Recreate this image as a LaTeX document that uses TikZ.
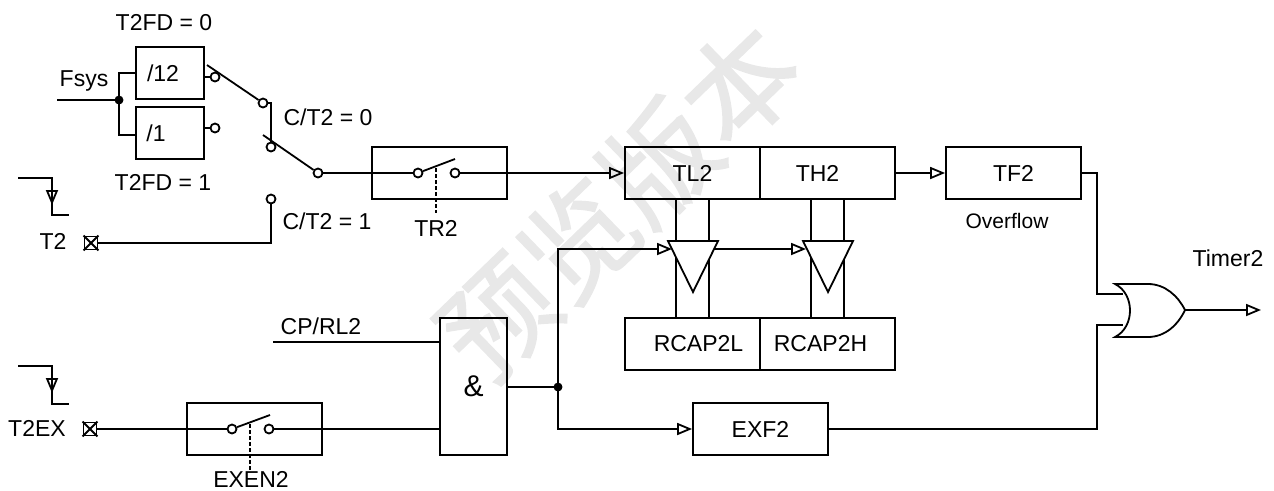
\documentclass[tikz,border=0pt]{standalone}
\usepackage{fontspec}
\setmainfont{Liberation Sans}
\newfontfamily\cjkfont[FakeBold=1.5]{Noto Sans CJK SC}
\usetikzlibrary{arrows.meta}

\tikzset{
	regbox/.style={draw, rectangle, inner sep=0pt, minimum width=135pt, minimum height=52pt},
	divbox/.style={draw, rectangle, inner sep=0pt, minimum width=68pt, minimum height=52pt},
	contact/.style={draw, circle, inner sep=0pt, minimum size=9pt},
	dot/.style={draw, circle, fill=black, inner sep=0pt, minimum size=7pt},
	portbox/.style={draw, rectangle, inner sep=0pt, minimum size=13pt},
	lbl/.style={inner sep=0pt}
}

\begin{document}
\begin{tikzpicture}[x=1pt,y=-1pt,line width=1.8pt,node distance=135pt,
	>={Triangle[open,length=15pt,width=12pt]},
	font=\fontsize{23}{27}\selectfont]
	\useasboundingbox (0,0) rectangle (1274,490);

	% background mark
	\node [lbl, text=black!9, rotate=44] (mark) at (619,201) {\fontsize{112}{112}\cjkfont 预览版本};

	% clock input and dividers
	\node [divbox] (D12) at (170,73) {\hspace*{-14pt}/12};
	\node [divbox] (D1) at (170,133) {\hspace*{-28pt}/1};
	\node [dot] (J1) at (119,100) {};
	\node [lbl] (Fsys) at (84,81) {Fsys};
	\node [lbl] (FD0) at (164,23) {T2FD = 0};
	\node [lbl] (FD1) at (163,182) {T2FD = 1};
	\coordinate (FsysIn) at (57,100);

	\node [contact] (C12) at (215,77) {};
	\node [contact] (C1) at (215,128) {};
	\node [contact] (CA) at (263,103) {};
	\node [contact] (CB) at (271,147) {};
	\node [contact] (CC) at (318,173) {};
	\node [contact] (CD) at (271,199) {};
	\coordinate (ArmA) at (207,65);
	\coordinate (ArmB) at (263,135);
	\node [lbl] (CT0) at (328,117) {C/T2 = 0};
	\node [lbl] (CT1) at (327,221) {C/T2 = 1};

	% T2 pin
	\node [portbox] (T2pin) at (91,243) {};
	\node [lbl] (T2) at (53,241) {T2};
	\coordinate (P1a) at (18,178);
	\coordinate (P1b) at (52,215);
	\coordinate (P1c) at (69,215);
	\coordinate (P1t) at (52,205);

	% TR2 switch
	\node [regbox] (TRbox) at (439.5,173) {};
	\node [contact] (TRa) at (418,173) {};
	\node [contact] (TRb) at (455,173) {};
	\coordinate (TRarm) at (455,159);
	\coordinate (TRd1) at (436,168);
	\coordinate (TRd2) at (436,213);
	\node [lbl] (TR2) at (436,228) {TR2};

	% timer registers
	\node [regbox] (TL) at (692.5,173) {TL2};
	\node [regbox] (TH) [right of = TL] {TH2\hspace*{20pt}};
	\node [regbox] (RL) at (692.5,344) {\hspace*{12pt}RCAP2L};
	\node [regbox] (RH) [right of = RL] {RCAP2H\hspace*{14pt}};
	\node [regbox] (TF) at (1013.5,173) {TF2};
	\node [lbl, font=\fontsize{21}{25}\selectfont] (Ovf) at (1007,221) {Overflow};

	\foreach \n/\m in {TL/RL, TH/RH} {
		\draw ([xshift=-16.5pt]\n.south) -- ([xshift=-16.5pt]\m.north);
		\draw ([xshift=16.5pt]\n.south) -- ([xshift=16.5pt]\m.north);
	}
	\coordinate (B1) at (693,241);
	\coordinate (B2) at (828,241);
	\draw [fill=white] (B1) ++(-25,0) -- ++(50,0) -- ++(-25,51) -- cycle;
	\draw [fill=white] (B2) ++(-25,0) -- ++(50,0) -- ++(-25,51) -- cycle;
	\coordinate (B1in) at (672,249);
	\coordinate (B1out) at (714,249);
	\coordinate (B2in) at (806,249);

	% T2EX pin
	\node [portbox] (T2EXpin) at (90,429) {};
	\node [lbl] (T2EX) at (37,428) {T2EX};
	\coordinate (P2a) at (18,366);
	\coordinate (P2b) at (52,404);
	\coordinate (P2c) at (69,404);
	\coordinate (P2t) at (52,393);

	% EXEN2 switch
	\node [regbox] (EXbox) at (254.5,429) {};
	\node [contact] (EXa) at (232,429) {};
	\node [contact] (EXb) at (269,429) {};
	\coordinate (EXarm) at (270,415);
	\coordinate (EXd1) at (250,424);
	\coordinate (EXd2) at (250,470);
	\node [lbl] (EXEN) at (251,479) {EXEN2};

	% gate and flags
	\node [draw, rectangle, inner sep=0pt, minimum width=67pt, minimum height=137pt] (AND) at (473.5,386.5) {\fontsize{30}{32}\selectfont\&};
	\coordinate (CPin) at (273,342);
	\node [lbl] (CP) at (321,326) {CP/RL2};
	\node [dot] (J2) at (558,387) {};
	\node [regbox] (EXF) at (760.5,429) {EXF2};

	% or gate
	\coordinate (ORa) at (1123,294);
	\coordinate (ORb) at (1123,325);
	\coordinate (ORout) at (1185,310);
	\coordinate (Tout) at (1261,310);
	\coordinate (ORup) at (1097,294);
	\coordinate (ORdn) at (1097,325);
	\draw (1115,284) .. controls (1135,294) and (1135,327) .. (1115,337) -- (1148,337)
		.. controls (1165,337) and (1178,325) .. (ORout)
		.. controls (1178,296) and (1165,284) .. (1148,284) -- cycle;
	\node [lbl] (TM) at (1228,258) {Timer2};

	% connections
	\draw (FsysIn) -- (J1);
	\draw (J1) |- (D12.west);
	\draw (J1) |- ([yshift=-2pt]D1.west);
	\draw (C12 -| D12.east) -- (C12);
	\draw (C1 -| D1.east) -- (C1);
	\draw (ArmA) -- (CA);
	\draw (CA.east) -| (CB.north);
	\draw (ArmB) -- (CC);
	\draw (CC) -- (TRa);
	\draw (TRa) -- (TRarm);
	\draw [dashed, dash pattern=on 4pt off 2pt] (TRd1) -- (TRd2);
	\draw [->] (TRb) -- (TL.west);
	\draw [->] (TH.east) -- (TF.west);
	\draw (T2pin.east) -| (CD.south);
	\draw (T2pin.north west) -- (T2pin.south east);
	\draw (T2pin.north east) -- (T2pin.south west);
	\draw (P1a) -| (P1b) -- (P1c);
	\draw [->] (P1a -| P1b) -- (P1t);

	\draw (T2EXpin.east) -- (EXa);
	\draw (T2EXpin.north west) -- (T2EXpin.south east);
	\draw (T2EXpin.north east) -- (T2EXpin.south west);
	\draw (P2a) -| (P2b) -- (P2c);
	\draw [->] (P2a -| P2b) -- (P2t);
	\draw (EXa) -- (EXarm);
	\draw [dashed, dash pattern=on 4pt off 2pt] (EXd1) -- (EXd2);
	\draw (EXb) -- (EXb -| AND.west);
	\draw (CPin) -- (CPin -| AND.west);
	\draw (AND.east |- J2) -- (J2);
	\draw [->] (J2) |- (B1in);
	\draw [->] (J2) |- (EXF.west);
	\draw [->] (B1out) -- (B2in);

	\draw (TF.east) -| (ORup) -- (ORa);
	\draw (EXF.east) -| (ORdn) -- (ORb);
	\draw [->] (ORout) -- (Tout);
\end{tikzpicture}
\end{document}
